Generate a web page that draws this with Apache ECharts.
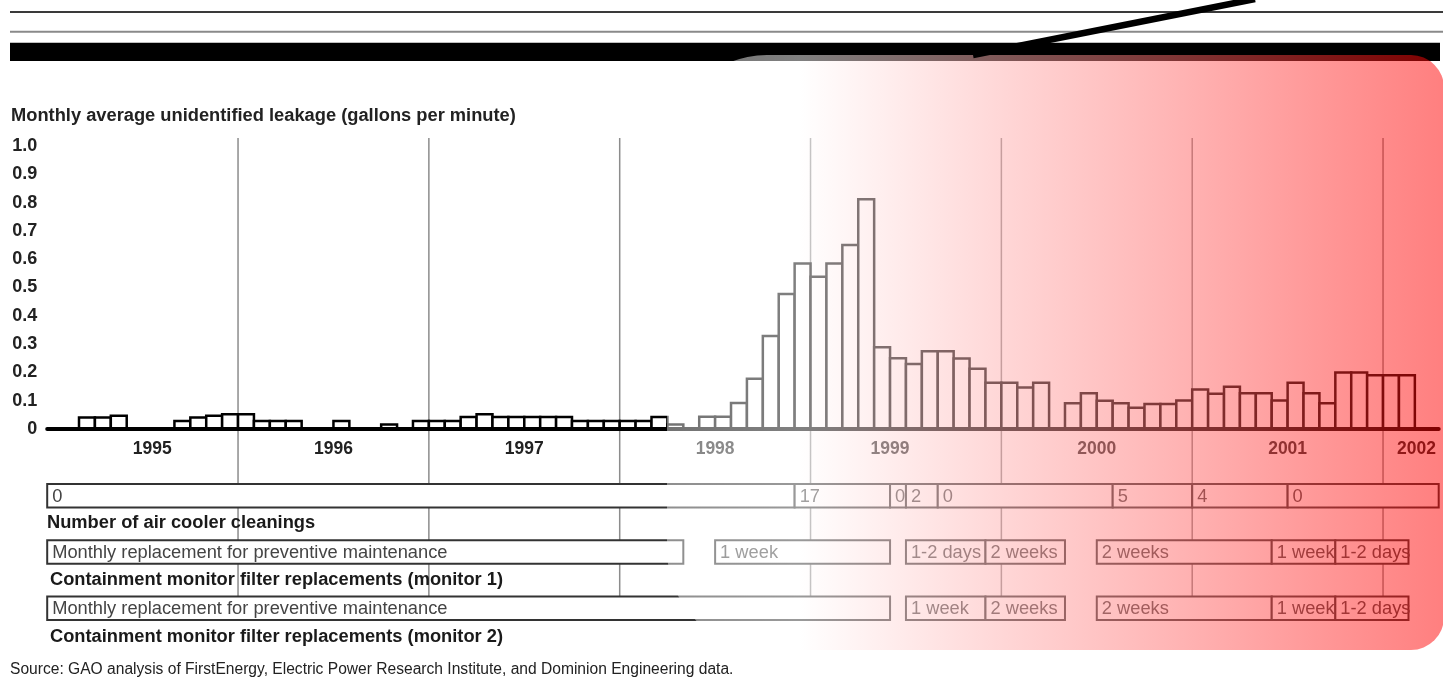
<!DOCTYPE html>
<html>
<head>
<meta charset="utf-8">
<script src="https://cdn.jsdelivr.net/npm/echarts@6/dist/echarts.min.js"></script>
<style>
  html, body { margin: 0; padding: 0; background: #fff; }
  #chart { width: 1443px; height: 678px; }
</style>
</head>
<body>
<div id="chart"></div>
<script>
// Monthly average unidentified leakage (gpm), one value per month starting January 1995
const leakage = [
  0, 0, 0.041, 0.041, 0.047, 0, 0, 0, 0.028, 0.041, 0.047, 0.052,          // 1995
  0.052, 0.028, 0.028, 0.028, 0, 0, 0.028, 0, 0, 0.016, 0, 0.028,          // 1996
  0.028, 0.028, 0.042, 0.052, 0.042, 0.042, 0.042, 0.042, 0.042, 0.028, 0.028, 0.028, // 1997
  0.028, 0.028, 0.042, 0.016, 0, 0.043, 0.043, 0.092, 0.178, 0.329, 0.477, 0.585,     // 1998
  0.538, 0.585, 0.650, 0.812, 0.289, 0.250, 0.230, 0.275, 0.275, 0.249, 0.213, 0.163, // 1999
  0.163, 0.147, 0.163, 0, 0.091, 0.126, 0.100, 0.091, 0.075, 0.088, 0.088, 0.101,     // 2000
  0.140, 0.125, 0.149, 0.126, 0.126, 0.101, 0.163, 0.126, 0.091, 0.200, 0.200, 0.190, // 2001
  0.190, 0.190                                                               // 2002
];

// Time axis (in months from January 1995)
const axisEndMonth = 87.5;
const yearLabels = ['1995', '1996', '1997', '1998', '1999', '2000', '2001', '2002'];
const yearLabelMonths = [6.6, 18, 30, 42, 53, 66, 78, 86.1];
const yearBoundaryMonths = [12, 24, 36, 48, 60, 72, 84];

// Timeline rows: [start month, end month, text]
const coolerCleanings = [
  [0, 47, '0'], [47, 53, '17'], [53, 54, '0'], [54, 56, '2'],
  [56, 67, '0'], [67, 72, '5'], [72, 78, '4'], [78, 87.5, '0']
];
const monitor1Filters = [
  [0, 40, 'Monthly replacement for preventive maintenance'],
  [42, 53, '1 week'], [54, 59, '1-2 days'], [59, 64, '2 weeks'],
  [66, 77, '2 weeks'], [77, 81, '1 week'], [81, 85.6, '1-2 days']
];
const monitor2Filters = [
  [0, 53, 'Monthly replacement for preventive maintenance'],
  [54, 59, '1 week'], [59, 64, '2 weeks'],
  [66, 77, '2 weeks'], [77, 81, '1 week'], [81, 85.6, '1-2 days']
];
const rowTitles = [
  'Number of air cooler cleanings',
  'Containment monitor filter replacements (monitor 1)',
  'Containment monitor filter replacements (monitor 2)'
];
const chartTitle = 'Monthly average unidentified leakage (gallons per minute)';
const sourceNote = 'Source: GAO analysis of FirstEnergy, Electric Power Research Institute, and Dominion Engineering data.';

const FONT = '"Liberation Sans", Arial, Helvetica, sans-serif';
const PLOT_LEFT = 47.2;
const PLOT_RIGHT = 4.3;
const ROW_BOX = 0.417; // box height as a fraction of one timeline row

const timelineRows = [coolerCleanings, monitor1Filters, monitor2Filters];
const timelineData = [];
const timelineText = [];
timelineRows.forEach((segs, row) => {
  segs.forEach(s => { timelineData.push([s[0], s[1], row]); timelineText.push(s[2]); });
});

const chart = echarts.init(document.getElementById('chart'), null, { renderer: 'canvas' });

const option = {
  backgroundColor: '#fff',
  animation: false,
  grid: [
    { left: PLOT_LEFT, right: PLOT_RIGHT, top: 146, height: 283 },
    { left: PLOT_LEFT, right: PLOT_RIGHT, top: 484, height: 168.9 }
  ],
  xAxis: [
    {
      gridIndex: 0, type: 'value', min: 0, max: axisEndMonth, z: 5,
      axisLine: { show: true, lineStyle: { color: '#000', width: 4 } },
      axisTick: { show: false },
      splitLine: { show: false },
      axisLabel: {
        customValues: yearLabelMonths,
        formatter: v => yearLabels[yearLabelMonths.indexOf(v)] || '',
        fontFamily: FONT, fontWeight: 'bold', fontSize: 17.5, color: '#222', margin: 11
      }
    },
    {
      gridIndex: 1, type: 'value', min: 0, max: axisEndMonth, show: false
    }
  ],
  yAxis: [
    {
      gridIndex: 0, type: 'value', min: 0, max: 1, interval: 0.1,
      axisLine: { show: false }, axisTick: { show: false }, splitLine: { show: false },
      axisLabel: {
        formatter: v => (v === 0 ? '0' : v.toFixed(1)),
        fontFamily: FONT, fontWeight: 'bold', fontSize: 18, color: '#222', margin: 10
      }
    },
    { gridIndex: 1, type: 'value', min: 0, max: 3, inverse: true, show: false }
  ],
  series: [
    {
      // year separators running from the plot down through the timeline rows
      type: 'custom', xAxisIndex: 0, yAxisIndex: 0, z: 1, silent: true,
      data: yearBoundaryMonths.map(m => [m, 0]),
      encode: { x: 0, y: 1 },
      renderItem: (params, api) => {
        const x = api.coord([api.value(0), 0])[0];
        return {
          type: 'line',
          shape: { x1: x, y1: 138, x2: x, y2: 597 },
          style: { stroke: '#8c8c8c', lineWidth: 1.5 }
        };
      }
    },
    {
      // monthly leakage histogram
      type: 'custom', xAxisIndex: 0, yAxisIndex: 0, z: 2, silent: true,
      data: leakage.map((v, i) => [i, v]),
      encode: { x: 0, y: 1 },
      renderItem: (params, api) => {
        const i = api.value(0), v = api.value(1);
        if (!(v > 0)) return null;
        const p0 = api.coord([i, v]);
        const p1 = api.coord([i + 1, 0]);
        return {
          type: 'rect',
          shape: { x: p0[0], y: p0[1], width: p1[0] - p0[0], height: p1[1] - p0[1] },
          style: { fill: '#fff', stroke: '#000', lineWidth: 2.5 }
        };
      }
    },
    {
      // timeline boxes
      type: 'custom', xAxisIndex: 1, yAxisIndex: 1, z: 3, silent: true,
      data: timelineData,
      encode: { x: [0, 1], y: 2 },
      renderItem: (params, api) => {
        const row = api.value(2);
        const p0 = api.coord([api.value(0), row]);
        const p1 = api.coord([api.value(1), row + ROW_BOX]);
        return {
          type: 'group',
          children: [
            {
              type: 'rect',
              shape: { x: p0[0], y: p0[1], width: p1[0] - p0[0], height: p1[1] - p0[1] },
              style: { fill: '#fff', stroke: '#333', lineWidth: 2 }
            },
            {
              type: 'text',
              style: {
                text: timelineText[params.dataIndex],
                x: p0[0] + 5, y: (p0[1] + p1[1]) / 2 + 1,
                verticalAlign: 'middle', align: 'left',
                font: '18.3px ' + FONT, fill: '#444'
              }
            }
          ]
        };
      }
    }
  ],
  graphic: [
    // header rules
    { type: 'line', z: 50, silent: true, shape: { x1: 10, y1: 12, x2: 1443, y2: 12 }, style: { stroke: '#3a3a3a', lineWidth: 2 } },
    { type: 'line', z: 50, silent: true, shape: { x1: 10, y1: 31.7, x2: 1443, y2: 31.7 }, style: { stroke: '#8a8a8a', lineWidth: 2 } },
    { type: 'rect', z: 50, silent: true, shape: { x: 10, y: 42.7, width: 1430, height: 18.3 }, style: { fill: '#000' } },
    // chart title
    { type: 'text', z: 50, silent: true, style: { text: chartTitle, x: 11, y: 116, verticalAlign: 'middle', font: 'bold 18.3px ' + FONT, fill: '#222' } },
    // timeline row titles
    { type: 'text', z: 50, silent: true, style: { text: rowTitles[0], x: 47, y: 523, verticalAlign: 'middle', font: 'bold 18.3px ' + FONT, fill: '#1a1a1a' } },
    { type: 'text', z: 50, silent: true, style: { text: rowTitles[1], x: 50, y: 580, verticalAlign: 'middle', font: 'bold 18.3px ' + FONT, fill: '#1a1a1a' } },
    { type: 'text', z: 50, silent: true, style: { text: rowTitles[2], x: 50, y: 637, verticalAlign: 'middle', font: 'bold 18.3px ' + FONT, fill: '#1a1a1a' } },
    // source line
    { type: 'text', z: 50, silent: true, style: { text: sourceNote, x: 10, y: 670, verticalAlign: 'middle', font: '15.6px ' + FONT, fill: '#222' } },
    // highlight panel over the later years
    {
      type: 'rect', z: 100, silent: true,
      shape: { x: 667, y: 55, width: 777, height: 595, r: [100, 33, 33, 100] },
      style: {
        fill: new echarts.graphic.LinearGradient(0, 0, 1, 0, [
          { offset: 0, color: 'rgba(255,255,255,0.45)' },
          { offset: 0.17, color: 'rgba(255,255,255,0.5)' },
          { offset: 1, color: 'rgba(255,0,0,0.5)' }
        ])
      }
    },
    // pointer stroke
    { type: 'line', z: 110, silent: true, shape: { x1: 973, y1: 55, x2: 1255, y2: -1 }, style: { stroke: '#000', lineWidth: 6.5 } }
  ]
};

chart.setOption(option);
</script>
</body>
</html>
